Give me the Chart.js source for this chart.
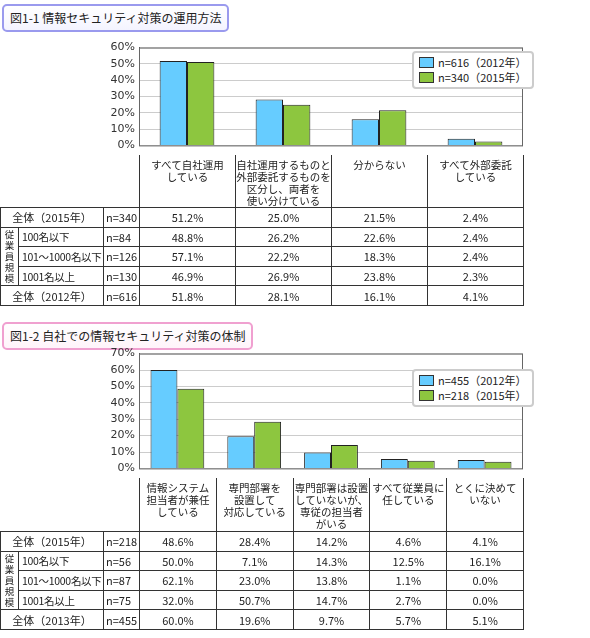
<!DOCTYPE html>
<html><head><meta charset="utf-8">
<script src="https://cdn.jsdelivr.net/npm/chart.js@4/dist/chart.umd.min.js"></script>
<style>
body{margin:0;background:#fff;font-family:"Noto Sans CJK JP",sans-serif;color:#222;}
.abs{position:absolute;}
.title{font-size:12px;line-height:24px;padding:0 6px;border-radius:5px;background:linear-gradient(#fff,#f4f4ff);}
.legend{background:#fff;border:2px solid #ccc;border-radius:4px;font-size:11px;padding:2px 5px;line-height:15px;white-space:nowrap;}
.sw{display:inline-block;width:13px;height:9px;border:1px solid #333;margin-right:4px;vertical-align:-1px;}
table{border-collapse:collapse;font-size:11px;table-layout:fixed;position:absolute;left:0;}
td{border:1px solid #333;padding:0;text-align:center;height:18.6px;white-space:nowrap;overflow:hidden;}
td.l{text-align:left;padding-left:3px;font-size:10.5px;letter-spacing:-0.3px;}
td.n{text-align:left;padding-left:2px;}
td.cat{vertical-align:top;line-height:12px;padding-top:4px;font-size:10.5px;white-space:normal;border-top:none;}
td.blank{border:none;border-right:1px solid #333;}
td.v{font-size:9.5px;line-height:11px;}
</style></head><body>
<div class="abs title" style="left:2px;top:4px;border:2px solid #9a9aee;">図1-1 情報セキュリティ対策の運用方法</div>
<div class="abs" style="left:0;top:37px;width:530px;height:119px;"><canvas id="c1"></canvas></div>
<div class="abs legend" style="left:412px;top:51px;"><span class="sw" style="background:#66ccff"></span><span id="l1a"></span><br><span class="sw" style="background:#8dc63f"></span><span id="l1b"></span></div>
<table id="t1" style="top:155px;width:524px;"></table>

<div class="abs title" style="left:2px;top:322px;border:2px solid #f0a0d0;background:linear-gradient(#fff,#fff4fa);">図1-2 自社での情報セキュリティ対策の体制</div>
<div class="abs" style="left:0;top:343px;width:530px;height:136px;"><canvas id="c2"></canvas></div>
<div class="abs legend" style="left:412px;top:369px;"><span class="sw" style="background:#66ccff"></span><span id="l2a"></span><br><span class="sw" style="background:#8dc63f"></span><span id="l2b"></span></div>
<table id="t2" style="top:478px;width:524px;"></table>
<script>
// ---- Data: chart 1 ----
const cat1 = ["すべて自社運用<br>している","自社運用するものと<br>外部委託するものを<br>区分し、両者を<br>使い分けている","分からない","すべて外部委託<br>している"];
const ser1Label = ["n=616（2012年）","n=340（2015年）"];
const s1_2012 = [51.8,28.1,16.1,4.1];
const s1_2015 = [51.2,25.0,21.5,2.4];
const tick1 = [0,10,20,30,40,50,60];
const rows1 = ["全体（2015年）","100名以下","101～1000名以下","1001名以上","全体（2012年）"];
const n1 = ["n=340","n=84","n=126","n=130","n=616"];
const tab1 = [["51.2%","25.0%","21.5%","2.4%"],["48.8%","26.2%","22.6%","2.4%"],["57.1%","22.2%","18.3%","2.4%"],["46.9%","26.9%","23.8%","2.3%"],["51.8%","28.1%","16.1%","4.1%"]];
// ---- Data: chart 2 ----
const cat2 = ["情報システム<br>担当者が兼任<br>している","専門部署を<br>設置して<br>対応している","専門部署は設置<br>していないが、<br>専従の担当者<br>がいる","すべて従業員に<br>任している","とくに決めて<br>いない"];
const ser2Label = ["n=455（2012年）","n=218（2015年）"];
const s2_2012 = [60.0,19.6,9.7,5.7,5.1];
const s2_2015 = [48.6,28.4,14.2,4.6,4.1];
const tick2 = [0,10,20,30,40,50,60,70];
const rows2 = ["全体（2015年）","100名以下","101～1000名以下","1001名以上","全体（2013年）"];
const n2 = ["n=218","n=56","n=87","n=75","n=455"];
const tab2 = [["48.6%","28.4%","14.2%","4.6%","4.1%"],["50.0%","7.1%","14.3%","12.5%","16.1%"],["62.1%","23.0%","13.8%","1.1%","0.0%"],["32.0%","50.7%","14.7%","2.7%","0.0%"],["60.0%","19.6%","9.7%","5.7%","5.1%"]];

document.getElementById('l1a').textContent=ser1Label[0];document.getElementById('l1b').textContent=ser1Label[1];
document.getElementById('l2a').textContent=ser2Label[0];document.getElementById('l2b').textContent=ser2Label[1];

function mk(id,cats,a,b,ticks,catPct){
  new Chart(document.getElementById(id),{type:'bar',
    data:{labels:cats.map(c=>c.replace(/<br>/g,'')),datasets:[
      {data:a,backgroundColor:'#66ccff',borderColor:'#222',borderWidth:1,barPercentage:1,categoryPercentage:catPct},
      {data:b,backgroundColor:'#8dc63f',borderColor:'#222',borderWidth:1,barPercentage:1,categoryPercentage:catPct}]},
    options:{responsive:true,maintainAspectRatio:false,animation:false,
      layout:{padding:{top:8,right:7,bottom:0,left:0}},
      plugins:{legend:{display:false},tooltip:{enabled:false}},
      scales:{x:{display:false},
        y:{min:ticks[0],max:ticks[ticks.length-1],afterFit:s=>{s.width=139},
          afterBuildTicks:s=>{s.ticks=ticks.map(v=>({value:v}))},
          ticks:{callback:v=>v+'%',color:'#333',font:{size:11,family:'DejaVu Sans'},padding:4},
          grid:{color:'#ccc',drawTicks:false},border:{color:'#555'}}}},
    plugins:[{id:'frame',afterDraw(c){const a=c.chartArea,x=c.ctx;x.save();x.strokeStyle='#666';x.lineWidth=1;x.strokeRect(a.left+.5,a.top+.5,a.right-a.left-1,a.bottom-a.top);x.restore();}}]
  });
}
mk('c1',cat1,s1_2012,s1_2015,tick1,0.57);
mk('c2',cat2,s2_2012,s2_2015,tick2,0.7);

function tbl(id,cats,rows,ns,tab,catH){
  const ncol=cats.length, w=(384/ncol);
  let h='<colgroup><col style="width:18px"><col style="width:85px"><col style="width:36px">'+cats.map(()=>'<col style="width:'+w+'px">').join('')+'</colgroup>';
  h+='<tr><td class="blank" colspan="3" style="height:'+catH+'px"></td>'+cats.map(c=>'<td class="cat">'+c+'</td>').join('')+'</tr>';
  rows.forEach((r,i)=>{
    h+='<tr>';
    if(i==0||i==4) h+='<td colspan="2">'+r+'</td>';
    else { if(i==1) h+='<td rowspan="3" class="v">従<br>業<br>員<br>規<br>模</td>'; h+='<td class="l">'+r+'</td>'; }
    h+='<td class="n">'+ns[i]+'</td>'+tab[i].map(v=>'<td>'+v+'</td>').join('')+'</tr>';
  });
  document.getElementById(id).innerHTML=h;
}
tbl('t1',cat1,rows1,n1,tab1,51);
tbl('t2',cat2,rows2,n2,tab2,53);
</script></body></html>
